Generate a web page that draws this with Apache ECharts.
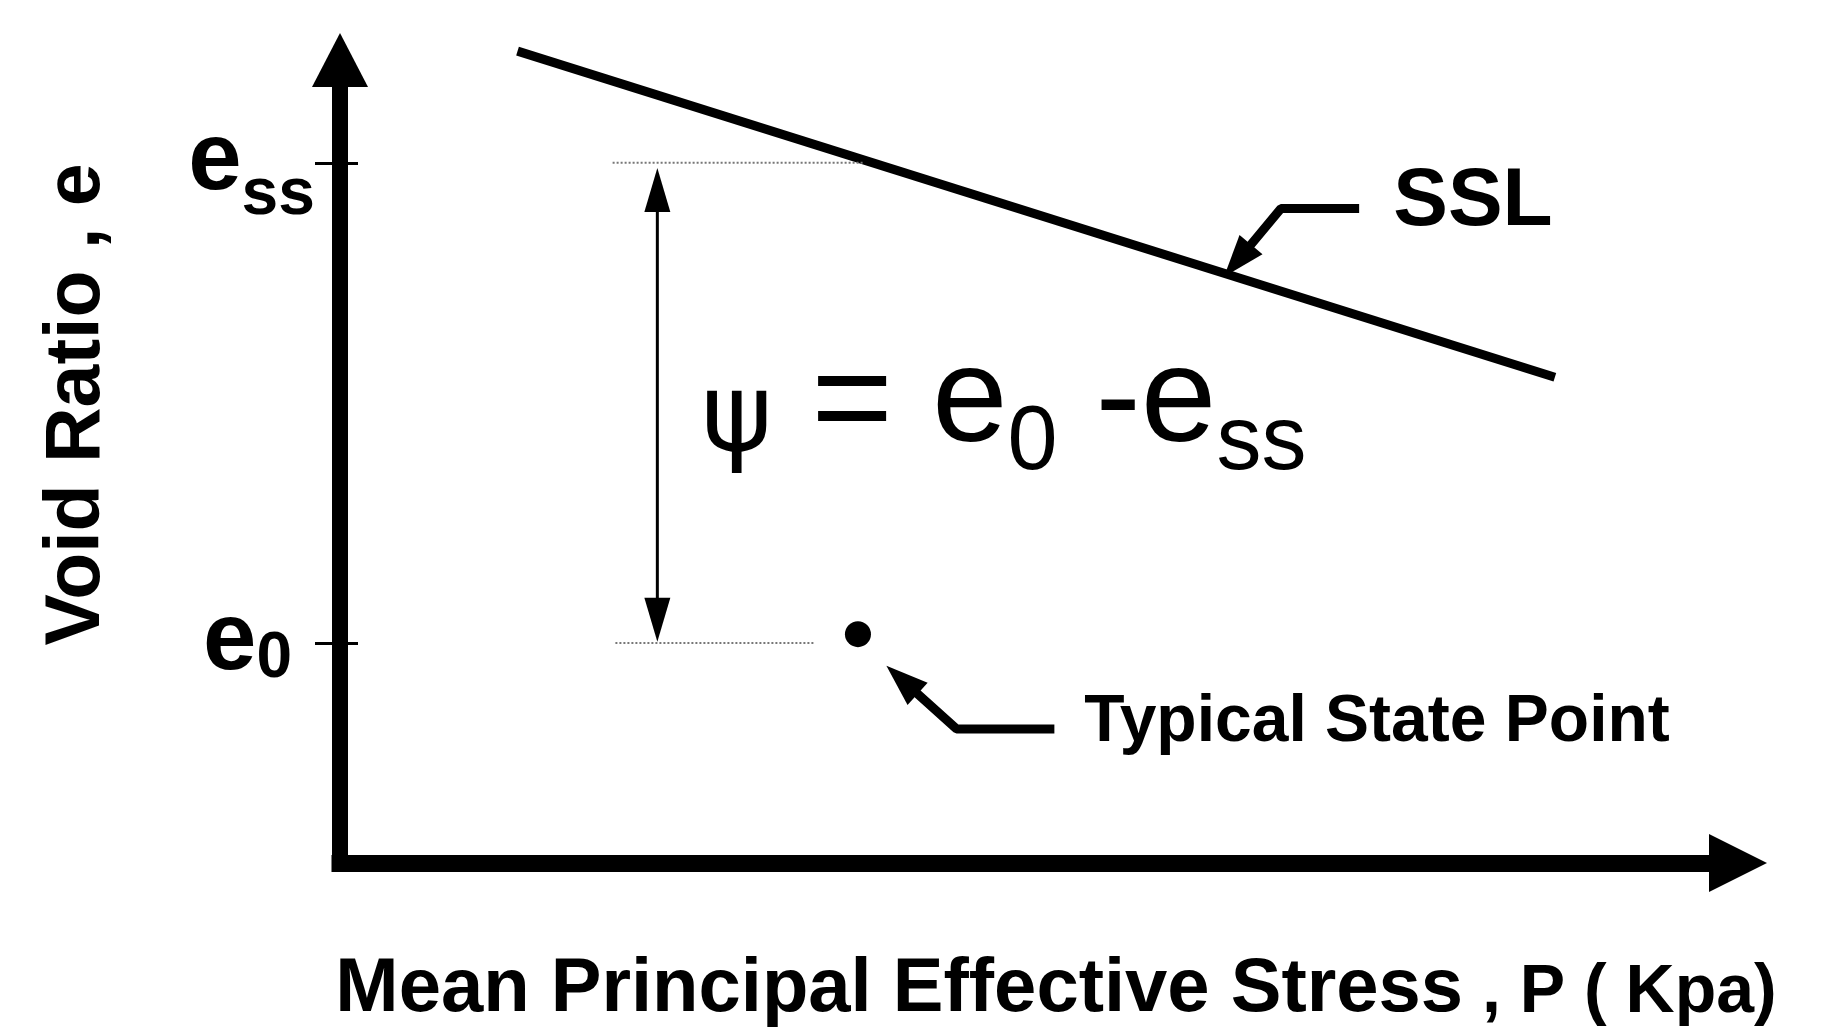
<!DOCTYPE html>
<html>
<head>
<meta charset="utf-8">
<title>State parameter</title>
<script src="https://cdn.jsdelivr.net/npm/echarts@6/dist/echarts.min.js"></script>
<style>
  html, body { margin: 0; padding: 0; background: #fff; }
  #chart { width: 1829px; height: 1028px; }
</style>
</head>
<body>
<div id="chart"></div>
<script>
// axis units are arbitrary: p along x (0-100), e along y (0-100)
var eSS = 87.2;
var e0 = 27.4;
var yTicks = [e0, eSS];

// steady state line
var sslP = [12.7, 86.9];
var sslE = [101.1, 60.5];

// dotted guides at e_ss and e_0
var guideEssP = [19.5, 37.4];
var guideE0P = [19.7, 33.9];

// typical state point
var stateP = [37.05];
var stateE = [28.5];

// psi double arrow (shaft ends = arrow head centres)
var psiP = [22.7, 22.7];
var psiE = [83.8, 30.3];
var psiHeadRot = [0, 180];

// leader to SSL
var sslLeadP = [72.9, 67.3, 64.2];
var sslLeadE = [81.5, 81.5, 75.0];
var sslHeadRot = 140;

// leader to the state point
var tspLeadP = [51.1, 44.1, 40.2];
var tspLeadE = [16.7, 16.7, 22.8];
var tspHeadRot = 48;

// text anchors
var sslLabelAt = [75.3, 82.3];
var tspLabelAt = [53.2, 17.4];
var psiLabelAt = [25.8, 57.0];

var FONT = "'Liberation Sans', Arial, Helvetica, sans-serif";

function zip(xs, ys) {
  return xs.map(function (x, i) { return [x, ys[i]]; });
}

var chart = echarts.init(document.getElementById('chart'));

function lineOf(data, width, extra) {
  var s = {
    type: 'line',
    data: data,
    symbol: 'none',
    clip: false,
    silent: true,
    animation: false,
    lineStyle: { color: '#000', width: width }
  };
  return Object.assign(s, extra || {});
}

function headOf(pts, rots, size) {
  return {
    type: 'scatter',
    symbol: 'triangle',
    symbolSize: size,
    silent: true,
    animation: false,
    clip: false,
    itemStyle: { color: '#000', opacity: 1 },
    data: pts.map(function (p, i) {
      return { value: p, symbolRotate: rots[i] };
    })
  };
}

function textOf(at, text, style) {
  return {
    type: 'scatter',
    symbolSize: 1,
    silent: true,
    animation: false,
    clip: false,
    itemStyle: { color: '#fff', opacity: 0 },
    data: [at],
    label: Object.assign({
      show: true,
      position: 'right',
      distance: 0,
      color: '#000',
      opacity: 1,
      fontFamily: FONT,
      formatter: text
    }, style)
  };
}

// rich token helper: top aligned, shifted down by pad
function tok(size, pad, weight, family) {
  return {
    fontFamily: family || FONT,
    fontWeight: weight || 'normal',
    fontSize: size,
    lineHeight: size,
    verticalAlign: 'top',
    padding: [pad, 0, 0, 0],
    color: '#000'
  };
}

chart.setOption({
  backgroundColor: '#fff',
  animation: false,
  grid: { left: 340, right: 91, top: 60, bottom: 165, containLabel: false, outerBoundsMode: 'none' },
  xAxis: {
    type: 'value',
    min: 0,
    max: 100,
    axisLine: {
      show: true,
      symbol: ['none', 'triangle'],
      symbolSize: [58, 58],
      lineStyle: { color: '#000', width: 17, cap: 'square' }
    },
    axisTick: { show: false },
    axisLabel: { show: false },
    splitLine: { show: false },
    name: '{a|Mean Principal Effective Stress}{b| , P ( Kpa)}',
    nameLocation: 'middle',
    nameGap: 89,
    nameTextStyle: {
      padding: [0, 0, 0, 34],
      rich: {
        a: { fontFamily: FONT, fontWeight: 'bold', fontSize: 76, color: '#000' },
        b: { fontFamily: FONT, fontWeight: 'bold', fontSize: 68, color: '#000', padding: [6, 0, 0, 0] }
      }
    }
  },
  yAxis: [{
    type: 'value',
    min: 0,
    max: 100,
    axisLine: {
      show: true,
      symbol: ['none', 'triangle'],
      symbolSize: [56, 54],
      lineStyle: { color: '#000', width: 16, cap: 'square' }
    },
    axisTick: {
      show: true,
      customValues: yTicks,
      length: 25,
      lineStyle: { color: '#000', width: 3 }
    },
    axisLabel: {
      show: true,
      customValues: yTicks,
      margin: 25,
      formatter: function (v) {
        return v === eSS ? '{E|e}{s|ss}' : '{e|e}{z|0}';
      },
      rich: {
        E: tok(96, 0, 'bold'),
        s: tok(66, 48, 'bold'),
        e: { fontFamily: FONT, fontWeight: 'bold', fontSize: 96, lineHeight: 96, color: '#000' },
        z: { fontFamily: FONT, fontWeight: 'bold', fontSize: 64, lineHeight: 34, verticalAlign: 'bottom', color: '#000', padding: [0, 23, 0, 0] }
      }
    },
    splitLine: { show: false },
    name: 'Void Ratio , e',
    nameLocation: 'middle',
    nameGap: 224,
    nameRotate: 90,
    nameTextStyle: {
      fontFamily: FONT,
      fontWeight: 'bold',
      fontSize: 77,
      color: '#000',
      padding: [0, 0, 0, 114]
    }
  }, {
    // second copy only for the inner half of the crossing ticks
    type: 'value',
    min: 0,
    max: 100,
    position: 'left',
    offset: 0,
    axisLine: { show: false },
    axisTick: {
      show: true,
      inside: true,
      customValues: yTicks,
      length: 18,
      lineStyle: { color: '#000', width: 3 }
    },
    axisLabel: { show: false },
    splitLine: { show: false }
  }],
  series: [
    lineOf(zip(sslP, sslE), 9),
    lineOf(zip(guideEssP, [eSS, eSS]), 2, { lineStyle: { color: '#777', width: 2, type: 'dotted' } }),
    lineOf(zip(guideE0P, [e0, e0]), 2, { lineStyle: { color: '#777', width: 2, type: 'dotted' } }),
    lineOf(zip(psiP, psiE), 3),
    headOf(zip(psiP, psiE), psiHeadRot, [26, 44]),
    lineOf(zip(sslLeadP, sslLeadE), 9),
    headOf([[sslLeadP[2], sslLeadE[2]]], [sslHeadRot], [30, 42]),
    lineOf(zip(tspLeadP, tspLeadE), 9),
    headOf([[tspLeadP[2], tspLeadE[2]]], [tspHeadRot], [30, 42]),
    {
      type: 'scatter',
      symbol: 'circle',
      symbolSize: 26,
      silent: true,
      animation: false,
      itemStyle: { color: '#000', opacity: 1 },
      data: zip(stateP, stateE)
    },
    textOf(sslLabelAt, 'SSL', { fontWeight: 'bold', fontSize: 82 }),
    textOf(tspLabelAt, 'Typical State Point', { fontWeight: 'bold', fontSize: 66 }),
    textOf(psiLabelAt, '{p|ψ}{q| = }{e|e}{sub|0}{e| -e}{sub|ss}', {
      rich: {
        p: tok(108, 33, 'normal', "'DejaVu Sans', sans-serif"),
        q: tok(140, 0),
        e: tok(136, 0),
        sub: tok(90, 64)
      }
    })
  ]
});
</script>
</body>
</html>
